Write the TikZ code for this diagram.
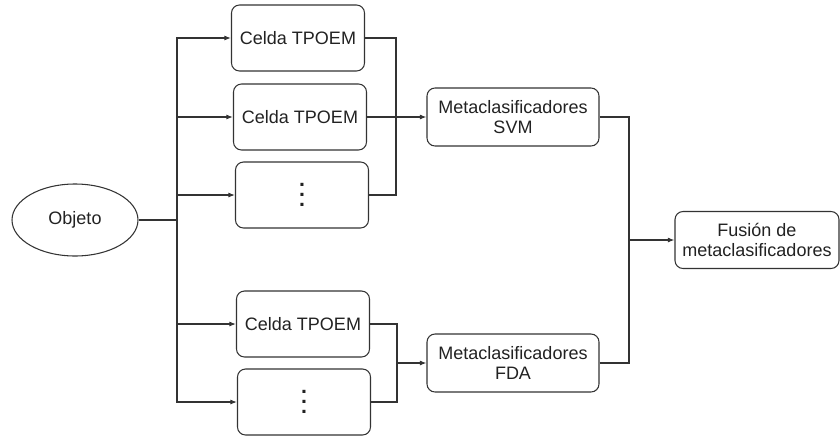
\documentclass[tikz,border=0pt]{standalone}
\usepackage{fontspec}
\setmainfont{Liberation Sans}
\usetikzlibrary{shapes.geometric,arrows.meta}
\definecolor{linegray}{HTML}{333333}
\definecolor{textgray}{HTML}{222222}
\newcommand{\colpuntos}{\vbox{\fontsize{16}{16}\bfseries\baselineskip7.5pt\lineskiplimit-20pt
  \hbox{.}\hbox{.}\hbox{.}}}

\begin{document}
\begin{tikzpicture}[x=0.75pt, y=-0.75pt,
  box/.style={rectangle, rounded corners=6pt, draw=linegray, line width=0.8pt, fill=white,
    inner sep=0pt, align=center, text=textgray, font=\fontsize{13.5}{15}\selectfont},
  cell/.style={box, minimum width=99.75pt, minimum height=49.5pt},
  meta/.style={box, minimum width=129pt, minimum height=43.5pt},
  fuse/.style={box, minimum width=123pt, minimum height=42.75pt},
  obj/.style={ellipse, draw=linegray, line width=0.8pt, inner sep=0pt, minimum width=94.5pt,
    minimum height=54pt, text=textgray, font=\fontsize{13.5}{15}\selectfont},
  link/.style={draw=linegray, line width=0.8pt},
  arr/.style={link, -{Latex[length=5pt, width=3.8pt]}}
]
  \useasboundingbox (0,0) rectangle (840,436);
  \node[obj] (objeto) at (75,220) {Objeto};
  \node[cell] (celdaA) at (298,38) {Celda TPOEM};
  \node[cell] (celdaB) at (300,117) {Celda TPOEM};
  \node[cell] (celdaC) at (302,195) {\colpuntos};
  \node[cell] (celdaD) at (303,324) {Celda TPOEM};
  \node[cell] (celdaE) at (304,402) {\colpuntos};
  \node[meta] (svm) at (513,117) {Metaclasificadores\\SVM};
  \node[meta] (fda) at (513,363) {Metaclasificadores\\FDA};
  \node[fuse] (fusion) at (757,240) {Fusión de\\metaclasificadores};
  \coordinate (split) at (177,220);
  \coordinate (joinS) at (396,117);
  \coordinate (joinF) at (397,363);
  \coordinate (joinR) at (629,240);
  % objeto to the cells
  \draw[link] (objeto.east) -- (split);
  \draw[arr] (split) |- (celdaA.west);
  \draw[arr] (split) |- (celdaB.west);
  \draw[arr] (split) |- (celdaC.west);
  \draw[arr] (split) |- (celdaD.west);
  \draw[arr] (split) |- (celdaE.west);
  % cells to the metaclassifiers
  \draw[link] (celdaA.east) -| (joinS);
  \draw[link] (celdaC.east) -| (joinS);
  \draw[arr] (celdaB.east) -- (svm.west);
  \draw[link] (celdaD.east) -| (joinF);
  \draw[link] (celdaE.east) -| (joinF);
  \draw[arr] (joinF) -- (fda.west);
  % fusion
  \draw[link] (svm.east) -| (joinR);
  \draw[link] (fda.east) -| (joinR);
  \draw[arr] (joinR) -- (fusion.west);
\end{tikzpicture}
\end{document}
